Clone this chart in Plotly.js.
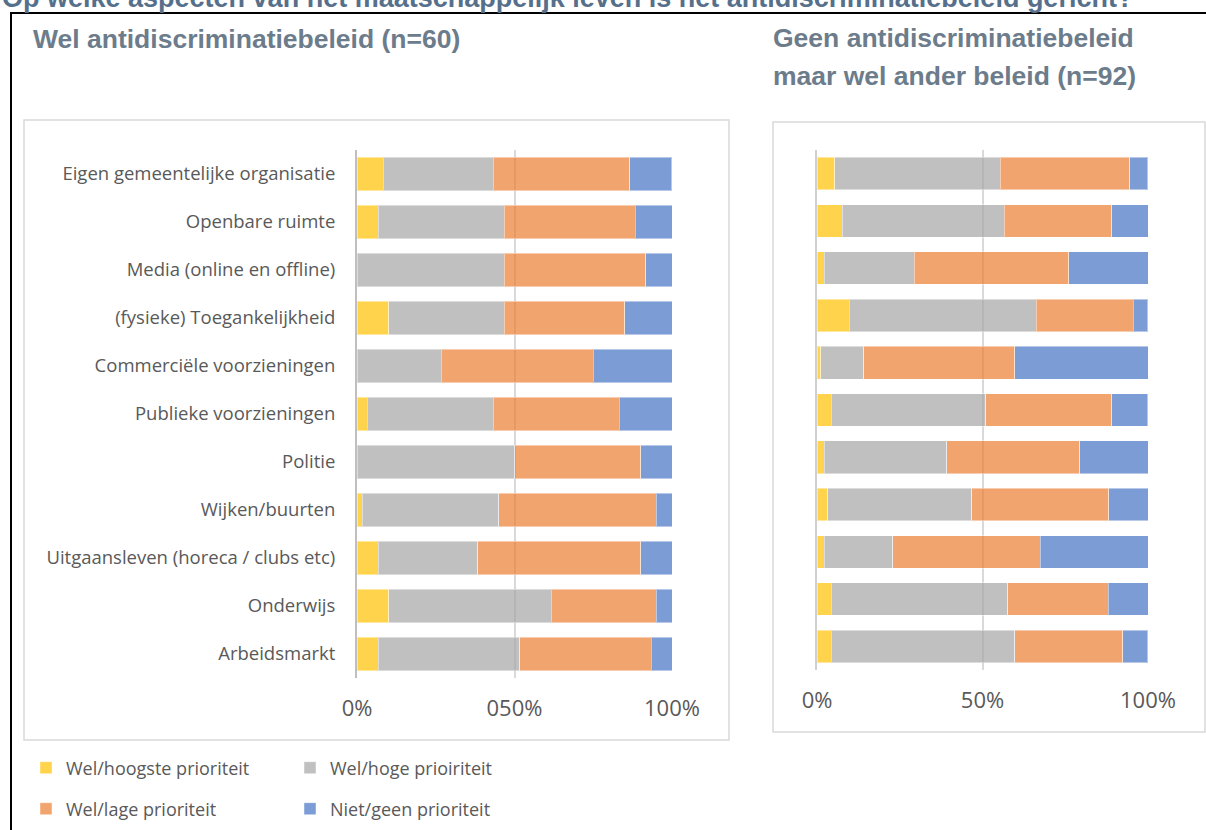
<!DOCTYPE html>
<html>
<head>
<meta charset="utf-8">
<script src="https://cdn.plot.ly/plotly-3.0.1.min.js"></script>
<style>html,body{margin:0;padding:0;background:#fff;}#chart{width:1206px;height:830px;}</style>
</head>
<body>
<div id="chart"></div>
<script>
const categories = [
  "Eigen gemeentelijke organisatie",
  "Openbare ruimte",
  "Media (online en offline)",
  "(fysieke) Toegankelijkheid",
  "Commerciële voorzieningen",
  "Publieke voorzieningen",
  "Politie",
  "Wijken/buurten",
  "Uitgaansleven (horeca / clubs etc)",
  "Onderwijs",
  "Arbeidsmarkt"
];
const seriesNames = ["Wel/hoogste prioriteit", "Wel/hoge prioiriteit", "Wel/lage prioriteit", "Niet/geen prioriteit"];

// Wel antidiscriminatiebeleid (n=60), percentages
const left_hoogste = [8.3, 6.7, 0, 10.0, 0, 3.3, 0, 1.7, 6.7, 10.0, 6.7];
const left_hoge    = [35.0, 40.0, 46.7, 36.7, 26.7, 40.0, 50.0, 43.3, 31.7, 51.7, 45.0];
const left_lage    = [43.3, 41.7, 45.0, 38.3, 48.3, 40.0, 40.0, 50.0, 51.7, 33.3, 41.7];
const left_niet    = [13.3, 11.7, 8.3, 15.0, 25.0, 16.7, 10.0, 5.0, 10.0, 5.0, 6.7];

// Geen antidiscriminatiebeleid maar wel ander beleid (n=92), percentages
const right_hoogste = [5.4, 7.6, 2.2, 9.8, 1.1, 4.3, 2.2, 3.3, 2.2, 4.3, 4.3];
const right_hoge    = [50.0, 48.9, 27.2, 56.5, 13.0, 46.7, 37.0, 43.5, 20.7, 53.3, 55.4];
const right_lage    = [39.1, 32.6, 46.7, 29.3, 45.7, 38.0, 40.2, 41.3, 44.6, 30.4, 32.6];
const right_niet    = [5.4, 10.9, 23.9, 4.3, 40.2, 10.9, 20.7, 12.0, 32.6, 12.0, 7.6];

const leftTickText = ["0%", "050%", "100%"];
const rightTickText = ["0%", "50%", "100%"];
const tickVals = [0, 50, 100];

const colors = ["rgba(255,192,0,0.70)", "rgba(165,165,165,0.70)", "rgba(237,125,49,0.70)", "rgba(68,114,196,0.70)"];

const W = 1206, H = 830;
const px = v => v / W;
const py = v => 1 - v / H;

const leftSeries = [left_hoogste, left_hoge, left_lage, left_niet];
const rightSeries = [right_hoogste, right_hoge, right_lage, right_niet];
const legendFor = ["legend", "legend", "legend2", "legend2"];

const traces = [];
leftSeries.forEach((vals, i) => {
  traces.push({
    type: "bar", orientation: "h", name: seriesNames[i],
    x: vals, y: categories, xaxis: "x", yaxis: "y",
    marker: {color: colors[i], line: {color: "rgba(255,255,255,0.45)", width: 1}},
    legend: legendFor[i], showlegend: true, hoverinfo: "x+y+name"
  });
});
rightSeries.forEach((vals, i) => {
  traces.push({
    type: "bar", orientation: "h", name: seriesNames[i],
    x: vals, y: categories, xaxis: "x2", yaxis: "y2",
    marker: {color: colors[i], line: {color: "rgba(255,255,255,0.45)", width: 1}},
    showlegend: false, hoverinfo: "x+y+name"
  });
});

const tickFont = {family: "Open Sans, Lato, sans-serif", size: 22, color: "#595959"};
const catFont = {family: "Open Sans, Lato, sans-serif", size: 18.5, color: "#595959"};
const headFont = {family: "Liberation Sans, Arial, sans-serif", size: 26.5, color: "#6c7c8b"};
const legFont = {family: "Open Sans, Lato, sans-serif", size: 18, color: "#595959"};

const layout = {
  width: W, height: H,
  margin: {l: 0, r: 0, t: 0, b: 0},
  paper_bgcolor: "#ffffff", plot_bgcolor: "rgba(0,0,0,0)",
  barmode: "stack", bargap: 0.31,
  xaxis: {
    domain: [px(357), px(672)], range: [0, 100], anchor: "y",
    tickvals: tickVals, ticktext: leftTickText, tickfont: tickFont,
    showgrid: true, gridcolor: "#d9d9d9", gridwidth: 1.5, zeroline: false,
    showline: false, ticks: "", ticklabelstandoff: 15, fixedrange: true
  },
  yaxis: {
    domain: [py(678), py(150)], anchor: "x", autorange: "reversed",
    tickfont: catFont, ticks: "", showgrid: false, zeroline: false,
    showline: true, linecolor: "#bfbfbf", linewidth: 2, ticklabelstandoff: 16, fixedrange: true
  },
  xaxis2: {
    domain: [px(817), px(1148)], range: [0, 100], anchor: "y2",
    tickvals: tickVals, ticktext: rightTickText, tickfont: tickFont,
    showgrid: true, gridcolor: "#d9d9d9", gridwidth: 1.5, zeroline: false,
    showline: false, ticks: "", ticklabelstandoff: 15, fixedrange: true
  },
  yaxis2: {
    domain: [py(670), py(150)], anchor: "x2", autorange: "reversed",
    showticklabels: false, ticks: "", showgrid: false, zeroline: false,
    showline: true, linecolor: "#d0d0d0", linewidth: 2, fixedrange: true
  },
  legend: {
    orientation: "h", x: px(26), xanchor: "left", y: py(768), yanchor: "middle",
    font: legFont, entrywidthmode: "pixels", entrywidth: 219,
    bgcolor: "rgba(0,0,0,0)", traceorder: "normal"
  },
  legend2: {
    orientation: "h", x: px(26), xanchor: "left", y: py(809), yanchor: "middle",
    font: legFont, entrywidthmode: "pixels", entrywidth: 219,
    bgcolor: "rgba(0,0,0,0)", traceorder: "normal"
  },
  shapes: [
    {type: "rect", xref: "paper", yref: "paper", x0: px(24), x1: px(729), y0: py(740), y1: py(120),
     line: {color: "#d9d9d9", width: 1.5}, fillcolor: "rgba(0,0,0,0)", layer: "below"},
    {type: "rect", xref: "paper", yref: "paper", x0: px(773), x1: px(1205), y0: py(732), y1: py(122),
     line: {color: "#d9d9d9", width: 1.5}, fillcolor: "rgba(0,0,0,0)", layer: "below"},
    {type: "rect", xref: "paper", yref: "paper", x0: px(11), x1: px(1220), y0: py(850), y1: py(13),
     line: {color: "#000000", width: 2}, fillcolor: "rgba(0,0,0,0)", layer: "above"}
  ],
  annotations: [
    {text: "<b>Op welke aspecten van het maatschappelijk leven is het antidiscriminatiebeleid gericht?</b>",
     xref: "paper", yref: "paper", x: px(0), y: py(-2), xanchor: "left", yanchor: "middle", showarrow: false,
     font: {family: "Liberation Sans, Arial, sans-serif", size: 27, color: "#56708c"}},
    {text: "<b>Wel antidiscriminatiebeleid (n=60)</b>",
     xref: "paper", yref: "paper", x: px(31), y: py(39), xanchor: "left", yanchor: "middle", showarrow: false,
     font: headFont},
    {text: "<b>Geen antidiscriminatiebeleid</b>",
     xref: "paper", yref: "paper", x: px(771), y: py(38), xanchor: "left", yanchor: "middle", showarrow: false,
     font: headFont},
    {text: "<b>maar wel ander beleid (n=92)</b>",
     xref: "paper", yref: "paper", x: px(771), y: py(76), xanchor: "left", yanchor: "middle", showarrow: false,
     font: headFont}
  ]
};

Plotly.newPlot("chart", traces, layout, {displayModeBar: false, responsive: false});
</script>
</body>
</html>
